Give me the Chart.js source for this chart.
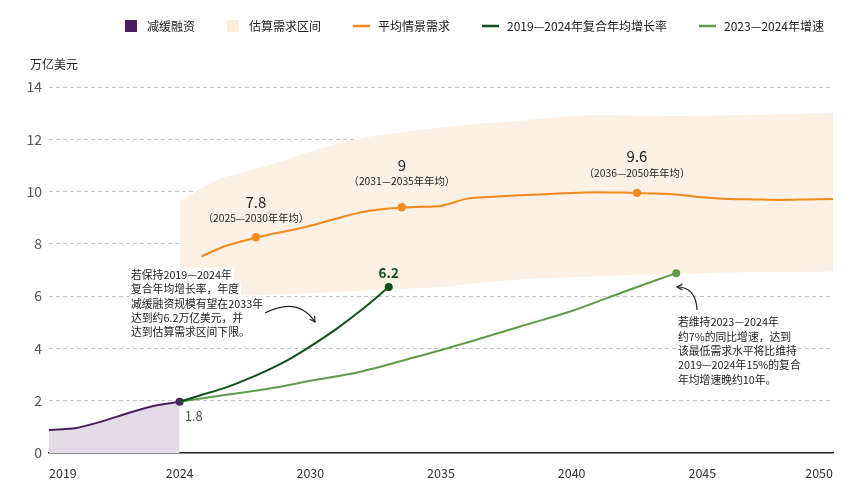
<!DOCTYPE html>
<html>
<head>
<meta charset="utf-8">
<script src="https://cdn.jsdelivr.net/npm/chart.js"></script>
<style>
  html, body { margin: 0; padding: 0; background: #fff; }
  #wrap { width: 865px; height: 487px; }
</style>
</head>
<body>
<div id="wrap"><canvas id="chart" width="865" height="487"></canvas></div>
<script>
// === Data ===
const tickYears = [2019, 2024, 2030, 2035, 2040, 2045, 2050];

const historyYears = [2019, 2020, 2021, 2022, 2023, 2024];
const historyValues = [0.88, 0.95, 1.20, 1.52, 1.80, 1.96];

const bandYears = [2024, 2025, 2026, 2027, 2028, 2029, 2030, 2031, 2032, 2033, 2034, 2035, 2036,
  2037, 2038, 2039, 2040, 2041, 2042, 2043, 2044, 2045, 2046, 2047, 2048, 2049, 2050];
const bandUpper = [9.60, 10.13, 10.53, 10.76, 10.99, 11.25, 11.53, 11.83, 12.05, 12.20, 12.34, 12.45, 12.56,
  12.63, 12.70, 12.80, 12.89, 12.92, 12.91, 12.90, 12.89, 12.90, 12.92, 12.94, 12.96, 12.99, 13.02];
const bandLower = [6.00, 6.00, 6.01, 6.02, 6.04, 6.08, 6.12, 6.16, 6.21, 6.25, 6.30, 6.35, 6.46,
  6.56, 6.64, 6.68, 6.72, 6.76, 6.80, 6.83, 6.85, 6.88, 6.90, 6.91, 6.92, 6.93, 6.94];

const avgYears = [2025, 2026, 2027, 2028, 2029, 2030, 2031, 2032, 2033, 2034, 2035, 2036, 2037,
  2038, 2039, 2040, 2041, 2042, 2043, 2044, 2045, 2046, 2047, 2048, 2049, 2050];
const avgDemand = [7.52, 7.89, 8.13, 8.33, 8.50, 8.69, 8.97, 9.22, 9.35, 9.41, 9.45, 9.73, 9.80,
  9.86, 9.90, 9.95, 9.97, 9.96, 9.93, 9.89, 9.78, 9.72, 9.70, 9.68, 9.70, 9.72];

const avgMarkerYears = [2027.5, 2033.5, 2042.5];
const avgMarkerValues = [8.25, 9.40, 9.95];
const avgLabels = ['7.8', '9', '9.6'];
const avgPeriods = ['（2025—2030年年均）', '（2031—2035年年均）', '（2036—2050年年均）'];

const cagrYears = [2024, 2025, 2026, 2027, 2028, 2029, 2030, 2031, 2032, 2033];
const cagrValues = [1.96, 2.22, 2.47, 2.79, 3.15, 3.57, 4.08, 4.75, 5.51, 6.35];

const yoyYears = [2024, 2026, 2028, 2030, 2032, 2034, 2036, 2038, 2040, 2042, 2044];
const yoyValues = [1.96, 2.21, 2.45, 2.76, 3.13, 3.66, 4.23, 4.83, 5.43, 6.17, 6.88];

const historyLabel = '1.8';
const cagrLabel = '6.2';
const leftNote = ['若保持2019—2024年', '复合年均增长率，年度', '减缓融资规模有望在2033年',
  '达到约6.2万亿美元，并', '达到估算需求区间下限。'];
const rightNote = ['若维持2023—2024年', '约7%的同比增速，达到', '该最低需求水平将比维持',
  '2019—2024年15%的复合', '年均增速晚约10年。'];

// === Styles ===
const FONT = "'Noto Sans CJK SC', 'Noto Sans', sans-serif";
const PURPLE = '#4a1d5e';
const LAVENDER = '#e4dbe8';
const BEIGE = '#fcf1e4';
const ORANGE = '#f28a1c';
const DKGREEN = '#0e4f1b';
const LTGREEN = '#5e9b4b';

Chart.defaults.font.family = FONT;

const pairs = (xs, ys) => xs.map((x, i) => ({ x, y: ys[i] }));
const lastOnly = (r) => (c) => (c.dataIndex === c.dataset.data.length - 1 ? r : 0);

// x axis: the reference spaces its year ticks evenly (2019-2024 takes as much room
// as 2024-2030), so values are placed piecewise between the tick years
class YearSlotScale extends Chart.LinearScale {
  static id = 'yearSlots';
  static defaults = {};

  buildTicks() {
    return tickYears.map((value) => ({ value }));
  }

  yearToSlot(year) {
    const t = tickYears;
    if (year <= t[0]) return (year - t[0]) / (t[1] - t[0]);
    for (let i = 1; i < t.length; i++) {
      if (year <= t[i]) return i - 1 + (year - t[i - 1]) / (t[i] - t[i - 1]);
    }
    const n = t.length - 1;
    return n + (year - t[n]) / (t[n] - t[n - 1]);
  }

  getPixelForValue(value) {
    return this.getPixelForDecimal(this.yearToSlot(value) / (tickYears.length - 1));
  }

  getValueForPixel(pixel) {
    const t = tickYears;
    const slot = this.getDecimalForPixel(pixel) * (t.length - 1);
    const i = Math.min(Math.max(Math.floor(slot), 0), t.length - 2);
    return t[i] + (slot - i) * (t[i + 1] - t[i]);
  }
}
Chart.register(YearSlotScale);

// === Legend row and the y-axis unit ===
const topLegend = {
  id: 'topLegend',
  afterDraw(chart, args, opts) {
    const { ctx } = chart;
    ctx.save();
    ctx.font = `12px ${FONT}`;
    ctx.textBaseline = 'middle';
    ctx.textAlign = 'left';
    let x = opts.x;
    const y = opts.y;
    chart.data.datasets.forEach((ds) => {
      if (!ds.legendSwatch) return;
      if (ds.legendSwatch === 'rect') {
        ctx.fillStyle = ds.legendColor;
        ctx.fillRect(x, y - 6, 12, 12);
        x += 12 + 10;
      } else {
        ctx.strokeStyle = ds.borderColor;
        ctx.lineWidth = 2.5;
        ctx.beginPath();
        ctx.moveTo(x, y);
        ctx.lineTo(x + 17, y);
        ctx.stroke();
        x += 17 + 8;
      }
      ctx.fillStyle = '#222';
      ctx.fillText(ds.label, x, y);
      x += ctx.measureText(ds.label).width + opts.spacing;
    });

    ctx.font = `12px ${FONT}`;
    ctx.fillStyle = '#222';
    ctx.fillText('万亿美元', 30, 64);
    ctx.restore();
  }
};

// === Value labels, callouts and arrows ===
function drawArrow(ctx, p0, p1, p2) {
  ctx.beginPath();
  ctx.moveTo(p0[0], p0[1]);
  ctx.quadraticCurveTo(p1[0], p1[1], p2[0], p2[1]);
  ctx.stroke();
  const a = Math.atan2(p2[1] - p1[1], p2[0] - p1[0]);
  const len = 6;
  ctx.beginPath();
  ctx.moveTo(p2[0] - len * Math.cos(a - 0.5), p2[1] - len * Math.sin(a - 0.5));
  ctx.lineTo(p2[0], p2[1]);
  ctx.lineTo(p2[0] - len * Math.cos(a + 0.5), p2[1] - len * Math.sin(a + 0.5));
  ctx.stroke();
}

function drawNote(ctx, lines, x, y0, lh) {
  ctx.font = `10.8px ${FONT}`;
  ctx.textAlign = 'left';
  ctx.textBaseline = 'middle';
  lines.forEach((line, i) => {
    const w = ctx.measureText(line).width;
    ctx.fillStyle = '#fff';
    ctx.fillRect(x - 2, y0 + i * lh - lh / 2, w + 4, lh);
  });
  ctx.fillStyle = '#222';
  lines.forEach((line, i) => ctx.fillText(line, x, y0 + i * lh));
}

const notes = {
  id: 'notes',
  afterDatasetsDraw(chart) {
    const { ctx } = chart;
    ctx.save();
    ctx.textAlign = 'center';
    ctx.textBaseline = 'middle';

    const markerOffsets = [[-35, -19.5], [-42, -26.5], [-37, -20]];
    chart.getDatasetMeta(4).data.forEach((pt, i) => {
      ctx.fillStyle = '#222';
      ctx.font = `15px ${FONT}`;
      ctx.fillText(avgLabels[i], pt.x, pt.y + markerOffsets[i][0]);
      ctx.font = `10.3px ${FONT}`;
      ctx.fillText(avgPeriods[i], pt.x, pt.y + markerOffsets[i][1]);
    });

    const cagrPts = chart.getDatasetMeta(5).data;
    const cagrEnd = cagrPts[cagrPts.length - 1];
    ctx.font = `600 13.5px ${FONT}`;
    ctx.fillStyle = DKGREEN;
    ctx.fillText(cagrLabel, cagrEnd.x, cagrEnd.y - 14);

    const histPts = chart.getDatasetMeta(0).data;
    const histEnd = histPts[histPts.length - 1];
    ctx.font = `13px ${FONT}`;
    ctx.fillStyle = '#555';
    ctx.textAlign = 'left';
    ctx.fillText(historyLabel, histEnd.x + 5, histEnd.y + 14);

    drawNote(ctx, leftNote, 131, 275, 14.3);
    drawNote(ctx, rightNote, 678, 322, 14.4);

    ctx.strokeStyle = '#222';
    ctx.lineWidth = 1.2;
    drawArrow(ctx, [265, 313], [298, 296], [315, 322]);
    drawArrow(ctx, [697, 310], [696, 287], [677, 287]);
    ctx.restore();
  }
};

new Chart(document.getElementById('chart'), {
  type: 'line',
  data: {
    datasets: [
      {
        label: '减缓融资',
        data: pairs(historyYears, historyValues),
        borderColor: PURPLE,
        backgroundColor: LAVENDER,
        fill: 'origin',
        borderWidth: 2,
        tension: 0.15,
        pointRadius: lastOnly(4),
        pointBackgroundColor: PURPLE,
        pointBorderWidth: 0,
        order: 4,
        legendSwatch: 'rect',
        legendColor: PURPLE
      },
      {
        label: '估算需求区间',
        data: pairs(bandYears, bandUpper),
        borderColor: 'transparent',
        borderWidth: 0,
        backgroundColor: BEIGE,
        fill: '+1',
        pointRadius: 0,
        tension: 0.3,
        order: 7,
        legendSwatch: 'rect',
        legendColor: '#fcecd9'
      },
      {
        label: '估算需求区间下限',
        data: pairs(bandYears, bandLower),
        borderColor: 'transparent',
        borderWidth: 0,
        fill: false,
        pointRadius: 0,
        tension: 0.3,
        order: 8
      },
      {
        label: '平均情景需求',
        data: pairs(avgYears, avgDemand),
        borderColor: ORANGE,
        borderWidth: 2,
        fill: false,
        pointRadius: 0,
        tension: 0.2,
        order: 3,
        legendSwatch: 'line'
      },
      {
        label: '平均情景需求（区间年均）',
        data: pairs(avgMarkerYears, avgMarkerValues),
        showLine: false,
        pointRadius: 4.2,
        pointBackgroundColor: ORANGE,
        pointBorderWidth: 0,
        order: 2
      },
      {
        label: '2019—2024年复合年均增长率',
        data: pairs(cagrYears, cagrValues),
        borderColor: DKGREEN,
        borderWidth: 2,
        fill: false,
        cubicInterpolationMode: 'monotone',
        pointRadius: lastOnly(4),
        pointBackgroundColor: DKGREEN,
        pointBorderWidth: 0,
        order: 0,
        legendSwatch: 'line'
      },
      {
        label: '2023—2024年增速',
        data: pairs(yoyYears, yoyValues),
        borderColor: LTGREEN,
        borderWidth: 2,
        fill: false,
        cubicInterpolationMode: 'monotone',
        pointRadius: lastOnly(4),
        pointBackgroundColor: LTGREEN,
        pointBorderWidth: 0,
        order: 1,
        legendSwatch: 'line'
      }
    ]
  },
  options: {
    responsive: false,
    animation: false,
    events: [],
    layout: { padding: { top: 87, right: 32, bottom: 0, left: 0 } },
    plugins: {
      legend: { display: false },
      tooltip: { enabled: false },
      topLegend: { x: 125, y: 26, spacing: 32 }
    },
    scales: {
      x: {
        type: 'yearSlots',
        grid: { display: false },
        border: { display: true, color: '#222', width: 1.5 },
        ticks: {
          align: 'inner',
          autoSkip: false,
          maxRotation: 0,
          padding: 5,
          color: '#333',
          font: { size: 12.5 },
          callback: (v) => String(v)
        },
        afterFit: (s) => { s.height = 34; }
      },
      y: {
        min: 0,
        max: 14,
        grid: {
          color: (c) => (c.tick && c.tick.value === 0 ? 'transparent' : '#c4c4c4'),
          lineWidth: 1,
          drawTicks: false
        },
        border: { display: false, dash: [4, 3] },
        ticks: { stepSize: 2, padding: 7, color: '#555', font: { size: 14 } },
        afterFit: (s) => { s.width = 49; }
      }
    }
  },
  plugins: [topLegend, notes]
});
</script>
</body>
</html>
